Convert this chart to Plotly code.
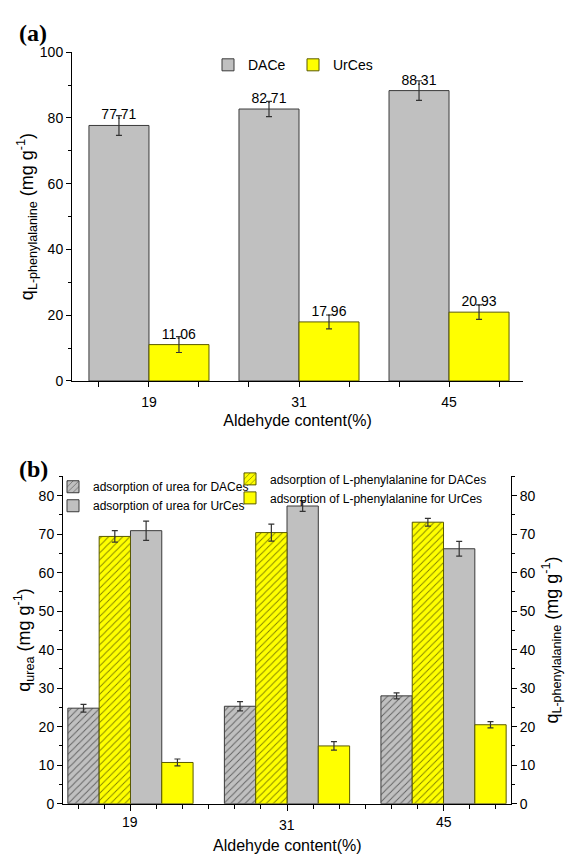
import plotly.graph_objects as go

# ---- data ----
aldehyde = ["19", "31", "45"]
pos = [1, 2, 3]

# panel (a): L-phenylalanine uptake
dace_phe = [77.71, 82.71, 88.31]
dace_phe_err = [3.0, 2.3, 3.0]
urces_phe = [11.06, 17.96, 20.93]
urces_phe_err = [2.4, 2.1, 2.2]

# panel (b): urea and L-phenylalanine uptake
urea_daces = [24.8, 25.3, 28.0]
urea_daces_err = [1.0, 1.2, 0.8]
phe_daces = [69.4, 70.4, 73.1]
phe_daces_err = [1.5, 2.2, 1.0]
urea_urces = [70.9, 77.3, 66.2]
urea_urces_err = [2.5, 1.4, 1.9]
phe_urces = [10.7, 15.0, 20.5]
phe_urces_err = [0.9, 1.1, 0.8]

GRAY = "#c0c0c0"
YELLOW = "#ffff00"
GRAY_EDGE = "#3a3a3a"
YELLOW_EDGE = "#5a5a00"
ERR = "#333333"
FONT = "Liberation Sans, Arial, sans-serif"

W, H = 565, 864


def err(vals):
    return dict(type="data", array=vals, visible=True, color=ERR, thickness=1.2, width=3)


fig = go.Figure()

# ---- panel (a) ----
fig.add_trace(go.Bar(
    x=pos, y=dace_phe, name="DACe", offset=-0.4, width=0.4,
    marker=dict(color=GRAY, line=dict(color=GRAY_EDGE, width=1)),
    error_y=err(dace_phe_err),
    text=[f"{v:.2f}" for v in dace_phe], textposition="outside",
    textfont=dict(size=14, color="black", family=FONT), cliponaxis=False,
    xaxis="x", yaxis="y", legend="legend",
))
fig.add_trace(go.Bar(
    x=pos, y=urces_phe, name="UrCes", offset=0.0, width=0.4,
    marker=dict(color=YELLOW, line=dict(color=YELLOW_EDGE, width=1)),
    error_y=err(urces_phe_err),
    text=[f"{v:.2f}" for v in urces_phe], textposition="outside",
    textfont=dict(size=14, color="black", family=FONT), cliponaxis=False,
    xaxis="x", yaxis="y", legend="legend",
))

# ---- panel (b) ----
hatch = dict(shape="/", fgcolor="black", size=5, solidity=0.18, fillmode="overlay")
fig.add_trace(go.Bar(
    x=pos, y=urea_daces, name="adsorption of urea for DACes", offset=-0.4, width=0.2,
    marker=dict(color=GRAY, line=dict(color=GRAY_EDGE, width=1), pattern=hatch),
    error_y=err(urea_daces_err), xaxis="x2", yaxis="y2", legend="legend2",
))
fig.add_trace(go.Bar(
    x=pos, y=urea_urces, name="adsorption of urea for UrCes", offset=0.0, width=0.2,
    marker=dict(color=GRAY, line=dict(color=GRAY_EDGE, width=1)),
    error_y=err(urea_urces_err), xaxis="x2", yaxis="y2", legend="legend2",
))
fig.add_trace(go.Bar(
    x=pos, y=phe_daces, name="adsorption of L-phenylalanine for DACes", offset=-0.2, width=0.2,
    marker=dict(color=YELLOW, line=dict(color=YELLOW_EDGE, width=1), pattern=hatch),
    error_y=err(phe_daces_err), xaxis="x2", yaxis="y3", legend="legend3",
))
fig.add_trace(go.Bar(
    x=pos, y=phe_urces, name="adsorption of L-phenylalanine for UrCes", offset=0.2, width=0.2,
    marker=dict(color=YELLOW, line=dict(color=YELLOW_EDGE, width=1)),
    error_y=err(phe_urces_err), xaxis="x2", yaxis="y3", legend="legend3",
))


def px_x(p):
    return p / W


def px_y(p):
    return 1 - p / H


axis_common = dict(
    showline=True, linecolor="black", linewidth=1, ticks="outside", tickcolor="black",
    tickwidth=1, showgrid=False, zeroline=False, mirror=False,
    tickfont=dict(size=14, family=FONT, color="black"),
)

title_font = dict(size=16, family=FONT, color="black")
ytitle_font = dict(size=18, family=FONT, color="black")

fig.update_layout(
    width=W, height=H, margin=dict(l=0, r=0, t=0, b=0),
    paper_bgcolor="white", plot_bgcolor="white",
    font=dict(family=FONT, color="black"),
    barmode="overlay",
    xaxis=dict(
        **axis_common, domain=[px_x(72), px_x(523)], range=[0.487, 3.493],
        tickvals=pos, ticktext=aldehyde, ticklen=5, ticklabelstandoff=3,
        minor=dict(tick0=0, dtick=1 / 3, ticklen=5, ticks="outside", tickcolor="black", showgrid=False),
        title=dict(text="Aldehyde content(%)", font=title_font, standoff=6),
        anchor="y",
    ),
    yaxis=dict(
        **axis_common, domain=[px_y(380), px_y(45)], range=[0, 100],
        tickvals=[0, 20, 40, 60, 80, 100], ticklen=5,
        minor=dict(dtick=10, ticklen=3, ticks="outside", tickcolor="black", showgrid=False),
        title=dict(text="q<sub>L-phenylalanine</sub> (mg g<sup>-1</sup>)", font=ytitle_font, standoff=1),
        anchor="x",
    ),
    xaxis2=dict(
        **axis_common, domain=[px_x(63), px_x(511)], range=[0.569, 3.431],
        tickvals=pos, showticklabels=False, ticklen=6,
        minor=dict(tick0=0, dtick=1 / 6, ticklen=4, ticks="outside", tickcolor="black", showgrid=False),
        anchor="y2",
    ),
    yaxis2=dict(
        **axis_common, domain=[px_y(810.7), px_y(477.2)], range=[0, 85],
        tickvals=[0, 10, 20, 30, 40, 50, 60, 70, 80], ticklen=5,
        minor=dict(dtick=5, ticklen=3, ticks="outside", tickcolor="black", showgrid=False),
        title=dict(text="q<sub>urea</sub> (mg g<sup>-1</sup>)", font=ytitle_font, standoff=3),
        anchor="x2",
    ),
    yaxis3=dict(
        **axis_common, range=[0, 85], overlaying="y2", side="right",
        tickvals=[0, 10, 20, 30, 40, 50, 60, 70, 80], ticklen=5,
        minor=dict(dtick=5, ticklen=3, ticks="outside", tickcolor="black", showgrid=False),
        title=dict(text="q<sub>L-phenylalanine</sub> (mg g<sup>-1</sup>)", font=ytitle_font, standoff=10),
        anchor="x2",
    ),
    legend=dict(
        orientation="h", x=px_x(208), y=px_y(42), xanchor="left", yanchor="top",
        bgcolor="rgba(0,0,0,0)", font=dict(size=14, family=FONT), entrywidth=40,
    ),
    legend2=dict(
        x=px_x(53), y=px_y(473), xanchor="left", yanchor="top",
        bgcolor="rgba(0,0,0,0)", font=dict(size=12, family=FONT), tracegroupgap=0,
    ),
    legend3=dict(
        x=px_x(230), y=px_y(465), xanchor="left", yanchor="top",
        bgcolor="rgba(0,0,0,0)", font=dict(size=12, family=FONT), tracegroupgap=0,
    ),
    showlegend=True,
)

# panel letters
fig.add_annotation(text="<b>(a)</b>", x=px_x(17), y=px_y(25), xref="paper", yref="paper",
                   xanchor="left", yanchor="middle", showarrow=False,
                   font=dict(size=24, family="Liberation Serif, Times New Roman, serif"))
fig.add_annotation(text="<b>(b)</b>", x=px_x(17), y=px_y(470), xref="paper", yref="paper",
                   xanchor="left", yanchor="middle", showarrow=False,
                   font=dict(size=24, family="Liberation Serif, Times New Roman, serif"))

# panel (b) category labels and axis title
label_drop = [0, 3, 0]
for p, lab, d in zip(pos, aldehyde, label_drop):
    fig.add_annotation(text=lab, x=p, xref="x2", y=px_y(819), yref="paper", yanchor="top",
                       yshift=-d, showarrow=False, font=dict(size=14, family=FONT))
fig.add_annotation(text="Aldehyde content(%)", x=2, xref="x2", y=px_y(853), yref="paper",
                   yanchor="middle", showarrow=False, font=title_font)

fig.write_html("out.html")
